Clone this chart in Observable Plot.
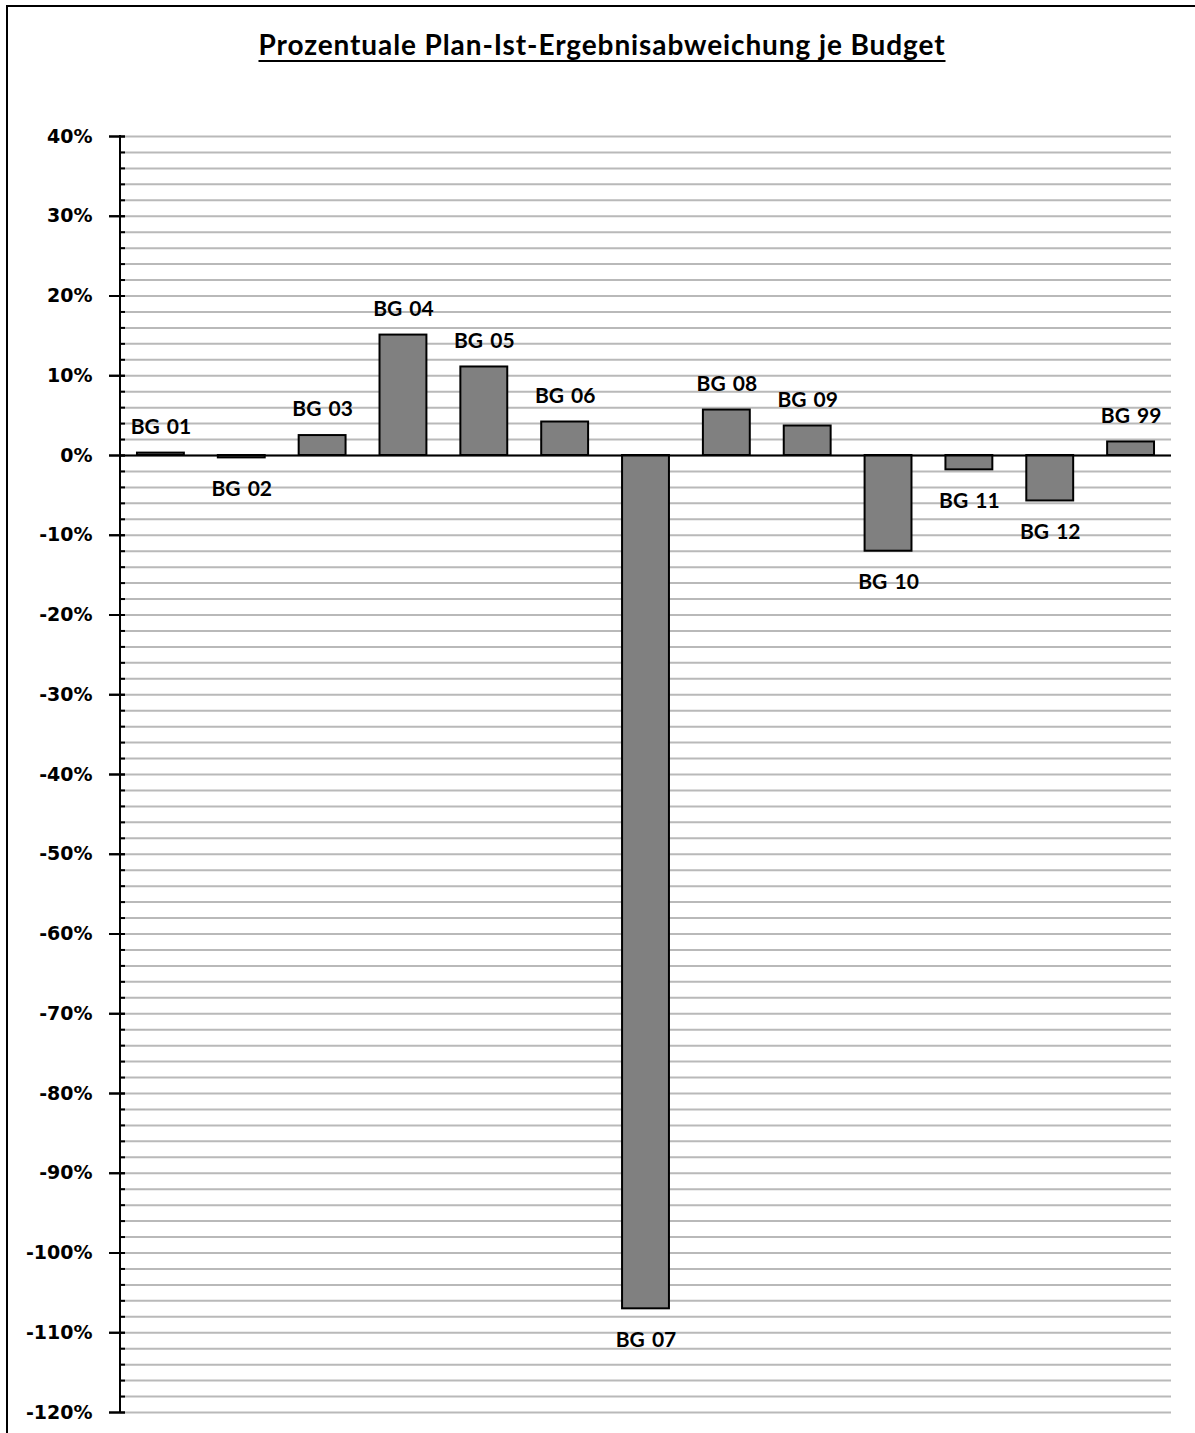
<!DOCTYPE html>
<html>
<head>
<meta charset="utf-8">
<script src="https://cdn.jsdelivr.net/npm/d3@7"></script>
<script src="https://cdn.jsdelivr.net/npm/@observablehq/plot@0.6"></script>
<style>
  html, body { margin: 0; padding: 0; overflow: hidden; background: #fff; }
  #wrap { position: relative; width: 1195px; height: 1433px; overflow: hidden; }
  #frame { position: absolute; left: 6px; top: 5px; width: 1240px; height: 1480px; border: 2px solid #000; }
  #title { position: absolute; top: 27px; left: 0; width: 1204px; text-align: center; line-height: 34px;
           font-family: Lato, "Open Sans", sans-serif; font-weight: bold; font-size: 28px; letter-spacing: 0.9px;
           text-decoration: underline; text-decoration-thickness: 2px; text-underline-offset: 5px; color: #000; }
  #chart { position: absolute; left: 0; top: 0; }
</style>
</head>
<body>
<div id="wrap">
  <div id="frame"></div>
  <div id="chart"></div>
  <div id="title">Prozentuale Plan-Ist-Ergebnisabweichung je Budget</div>
</div>
<script>
const categories = ["BG 01","BG 02","BG 03","BG 04","BG 05","BG 06","BG 07","BG 08","BG 09","BG 10","BG 11","BG 12","BG 99"];
const deviations = [0.3, -0.3, 2.5, 15.1, 11.1, 4.2, -107.0, 5.7, 3.7, -12.0, -1.8, -5.7, 1.7];
const majorTicks = d3.range(-120, 41, 10);
const minorTicks = d3.range(-120, 41, 2);

const data = categories.map((c, i) => ({cat: c, v: deviations[i]}));

const labelFont = "Lato, 'Open Sans', sans-serif";
const tickFont = "'DejaVu Sans', sans-serif";

// vertical axis line along the left edge of the plot area
const axisLine = (index, scales, values, dims) => {
  const x = dims.marginLeft;
  const line = d3.create("svg:line")
    .attr("x1", x).attr("x2", x)
    .attr("y1", dims.marginTop - 1).attr("y2", dims.height - dims.marginBottom + 1)
    .attr("stroke", "#000").attr("stroke-width", 2);
  return line.node();
};

const chart = Plot.plot({
  width: 1195,
  height: 1433,
  marginLeft: 120,
  marginRight: 24,
  marginTop: 136,
  marginBottom: 21,
  style: {fontFamily: labelFont, fontSize: "20px", fontWeight: "bold", color: "#000", background: "transparent", wordSpacing: "2px"},
  x: {domain: categories, paddingInner: 0.42, paddingOuter: 0.21, round: false, axis: null},
  y: {domain: [-120, 40], axis: null, label: null},
  marks: [
    Plot.gridY(minorTicks, {stroke: "#b9b9b9", strokeWidth: 2, strokeOpacity: 1}),
    Plot.barY(data, {x: "cat", y: "v", fill: "#808080", stroke: "#000", strokeWidth: 2}),
    Plot.ruleY([0], {stroke: "#000", strokeWidth: 2}),
    Plot.axisY(minorTicks, {anchor: "left", label: null, tickSize: 5, dx: 5, text: null, stroke: "#000", strokeWidth: 2, strokeOpacity: 1}),
    Plot.axisY(majorTicks, {anchor: "left", label: null, tickSize: 16, dx: 5, text: null, stroke: "#000", strokeWidth: 2, strokeOpacity: 1}),
    Plot.axisY(majorTicks, {anchor: "left", label: null, tickSize: 11, tickPadding: 17, tickFormat: d => d + "%", stroke: "#000", strokeWidth: 2, strokeOpacity: 1, fontSize: 19, fontWeight: "bold", fontFamily: tickFont, fill: "#000"}),
    axisLine,
    Plot.text(data.filter(d => d.v >= 0), {x: "cat", y: "v", text: "cat", dy: -26, lineAnchor: "middle", fontSize: 21, fontWeight: "bold", fill: "#000"}),
    Plot.text(data.filter(d => d.v < 0), {x: "cat", y: "v", text: "cat", dy: 31, lineAnchor: "middle", fontSize: 21, fontWeight: "bold", fill: "#000"})
  ]
});
document.getElementById("chart").appendChild(chart);
</script>
</body>
</html>
